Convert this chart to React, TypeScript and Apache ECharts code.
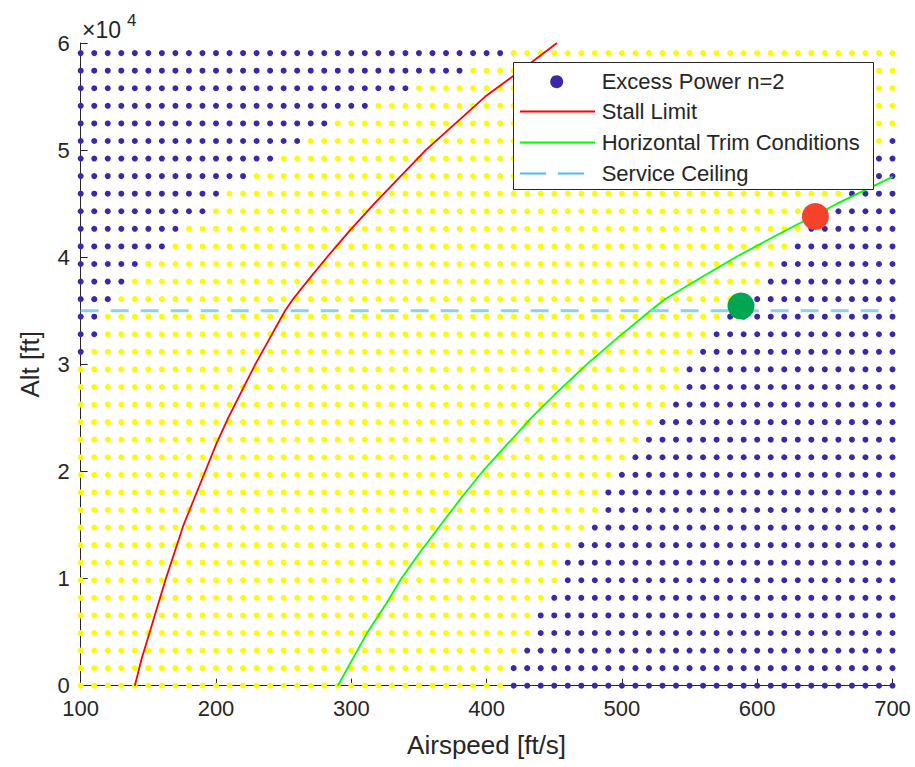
import React, { useEffect, useRef } from "react";
import * as echarts from "echarts";

// Grid of evaluated points (airspeed columns in ft/s, altitude rows in ft)
const airspeedCols = [
  100, 110, 120, 130, 140, 150, 160, 170, 180, 190, 200, 210, 220, 230, 240, 250, 260, 270, 280, 290,
  300, 310, 320, 330, 340, 350, 360, 370, 380, 390, 400, 410, 420, 430, 440, 450, 460, 470, 480, 490,
  500, 510, 520, 530, 540, 550, 560, 570, 580, 590, 600, 610, 620, 630, 640, 650, 660, 670, 680, 690, 700,
];
const altitudeRows = [
  0, 1640, 3281, 4921, 6562, 8202, 9843, 11483, 13123, 14764, 16404, 18045, 19685, 21325, 22966, 24606,
  26247, 27887, 29528, 31168, 32808, 34449, 36089, 37730, 39370, 41010, 42651, 44291, 45932, 47572,
  49213, 50853, 52493, 54134, 55774, 57415, 59055,
];
// Per altitude row: last airspeed of the low-speed (blue) block, null = none
const leftBlueMax = [
  null, null, null, null, null, null, null, null, null, null, null, null, null, null, null, null, null, null, null,
  100, 110, 110, 120, 130, 140, 160, 170, 190, 200, 220, 240, 260, 280, 310, 340, 380, 410,
];
// Per altitude row: first airspeed of the high-speed (blue) block, null = none
const rightBlueMin = [
  420, 420, 430, 440, 440, 450, 460, 460, 470, 480, 490, 490, 500, 510, 520, 530, 540, 550, 550, 560,
  570, 580, 590, 610, 620, 630, 640, 650, 670, 680, 690, 700, null, null, null, null, null,
];

const stallSpeed = [
  140, 145, 151, 157, 163, 169.5, 176, 184, 192, 200, 209, 219, 229, 240, 251, 257, 269, 282, 299, 317,
  336, 355, 377, 399, 426, 452,
];
const stallAlt = [
  0, 2500, 5000, 7500, 10000, 12500, 15000, 17500, 20000, 22500, 25000, 27500, 30000, 32500, 35000, 36100,
  38000, 40000, 42500, 45000, 47500, 50000, 52500, 55000, 57500, 60000,
];
const trimSpeed = [
  290, 301, 312, 325, 337, 351, 366, 381, 397, 415, 433, 453, 474, 497, 521, 532, 557, 584, 621, 659, 700,
];
const trimAlt = [
  0, 2500, 5000, 7500, 10000, 12500, 15000, 17500, 20000, 22500, 25000, 27500, 30000, 32500, 35000, 36100,
  38000, 40000, 42500, 45000, 47500,
];
const serviceCeiling = 35000;
const ceilingSpeedRange = [100, 700];
const redPoint = [643, 43800];
const greenPoint = [588, 35450];

const BLUE = "#3e26a8";
const YELLOW = "#f9fb0e";
const INK = "#262626";
const FONT = "'Liberation Sans', Arial, Helvetica, sans-serif";

export default function App() {
  const ref = useRef<HTMLDivElement>(null);

  useEffect(() => {
    if (!ref.current) return;
    const chart = echarts.init(ref.current, undefined, { renderer: "svg" });

    const dots: any[] = [];
    altitudeRows.forEach((alt, r) => {
      airspeedCols.forEach((v) => {
        const lm = leftBlueMax[r];
        const rm = rightBlueMin[r];
        const blue = (lm !== null && v <= lm) || (rm !== null && v >= rm);
        dots.push({ value: [v, alt], itemStyle: { color: blue ? BLUE : YELLOW } });
      });
    });

    const stallData = stallSpeed.map((v, i) => [v, stallAlt[i]]);
    const trimData = trimSpeed.map((v, i) => [v, trimAlt[i]]);
    const ceilingData = ceilingSpeedRange.map((v) => [v, serviceCeiling]);

    const legendX = 513.5;
    const legendY = 62.5;
    const rowsY = [81.7, 111.5, 142.5, 173.5];
    const legendLabels = ["Excess Power n=2", "Stall Limit", "Horizontal Trim Conditions", "Service Ceiling"];

    chart.setOption({
      animation: false,
      backgroundColor: "#ffffff",
      textStyle: { fontFamily: FONT },
      grid: { left: 80.7, top: 43, right: 22.5, bottom: 81.3, containLabel: false },
      xAxis: {
        type: "value",
        min: 100,
        max: 700,
        interval: 100,
        name: "Airspeed [ft/s]",
        nameLocation: "middle",
        nameGap: 46,
        nameTextStyle: { fontSize: 26, color: INK, fontFamily: FONT },
        axisLine: { show: true, onZero: false, lineStyle: { color: INK, width: 1 } },
        axisTick: { show: true, inside: true, length: 7, lineStyle: { color: INK } },
        axisLabel: { color: INK, fontSize: 22, margin: 12, fontFamily: FONT },
        splitLine: { show: false },
      },
      yAxis: {
        type: "value",
        min: 0,
        max: 60000,
        interval: 10000,
        name: "Alt [ft]",
        nameLocation: "middle",
        nameGap: 38,
        nameTextStyle: { fontSize: 26, color: INK, fontFamily: FONT },
        axisLine: { show: true, onZero: false, lineStyle: { color: INK, width: 1 } },
        axisTick: { show: true, inside: true, length: 7, lineStyle: { color: INK } },
        axisLabel: {
          color: INK,
          fontSize: 22,
          margin: 11,
          fontFamily: FONT,
          formatter: (v: number) => String(v / 10000),
        },
        splitLine: { show: false },
      },
      series: [
        {
          name: "Excess Power n=2",
          type: "scatter",
          data: dots,
          symbolSize: 6,
          clip: false,
          itemStyle: { color: BLUE, opacity: 1 },
          silent: true,
          z: 1,
        },
        {
          name: "Stall Limit",
          type: "line",
          data: stallData,
          showSymbol: false,
          lineStyle: { color: "#ff0000", width: 1.8 },
          silent: true,
          z: 2,
        },
        {
          name: "Horizontal Trim Conditions",
          type: "line",
          data: trimData,
          showSymbol: false,
          lineStyle: { color: "#00ff00", width: 1.8 },
          silent: true,
          z: 2,
        },
        {
          name: "Service Ceiling",
          type: "line",
          data: ceilingData,
          showSymbol: false,
          lineStyle: { color: "#8ccfee", width: 3, type: [18, 12] },
          silent: true,
          z: 2,
        },
        {
          name: "Point A",
          type: "scatter",
          data: [redPoint],
          symbolSize: 27,
          itemStyle: { color: "#f4432a", opacity: 1 },
          silent: true,
          z: 3,
        },
        {
          name: "Point B",
          type: "scatter",
          data: [greenPoint],
          symbolSize: 27,
          itemStyle: { color: "#00a651", opacity: 1 },
          silent: true,
          z: 3,
        },
      ],
      graphic: [
        {
          type: "text",
          x: 82,
          y: 30,
          z: 10,
          style: { text: "×10", fontSize: 23, fontFamily: FONT, fill: INK, verticalAlign: "middle", align: "left" },
        },
        {
          type: "text",
          x: 127,
          y: 20,
          z: 10,
          style: { text: "4", fontSize: 17, fontFamily: FONT, fill: INK, verticalAlign: "middle", align: "left" },
        },
        {
          type: "group",
          z: 20,
          children: [
            {
              type: "rect",
              shape: { x: legendX, y: legendY, width: 360, height: 127 },
              style: { fill: "#ffffff", stroke: INK, lineWidth: 1 },
              z: 20,
            },
            {
              type: "circle",
              shape: { cx: 556.7, cy: rowsY[0], r: 6.5 },
              style: { fill: BLUE },
              z: 21,
            },
            {
              type: "line",
              shape: { x1: 520, y1: rowsY[1], x2: 595, y2: rowsY[1] },
              style: { stroke: "#ff0000", lineWidth: 1.8 },
              z: 21,
            },
            {
              type: "line",
              shape: { x1: 520, y1: rowsY[2], x2: 595, y2: rowsY[2] },
              style: { stroke: "#00ff00", lineWidth: 1.8 },
              z: 21,
            },
            {
              type: "line",
              shape: { x1: 520, y1: rowsY[3], x2: 595, y2: rowsY[3] },
              style: { stroke: "#4dbeee", lineWidth: 2, lineDash: [26, 12] },
              z: 21,
            },
            ...legendLabels.map((t, i) => ({
              type: "text",
              x: 601.7,
              y: rowsY[i],
              z: 21,
              style: { text: t, fontSize: 22, fontFamily: FONT, fill: INK, verticalAlign: "middle", align: "left" },
            })),
          ],
        },
      ],
    });

    return () => chart.dispose();
  }, []);

  return (
    <div
      ref={ref}
      style={{ position: "fixed", left: 0, top: 0, width: "915px", height: "767px", background: "#fff" }}
    />
  );
}
